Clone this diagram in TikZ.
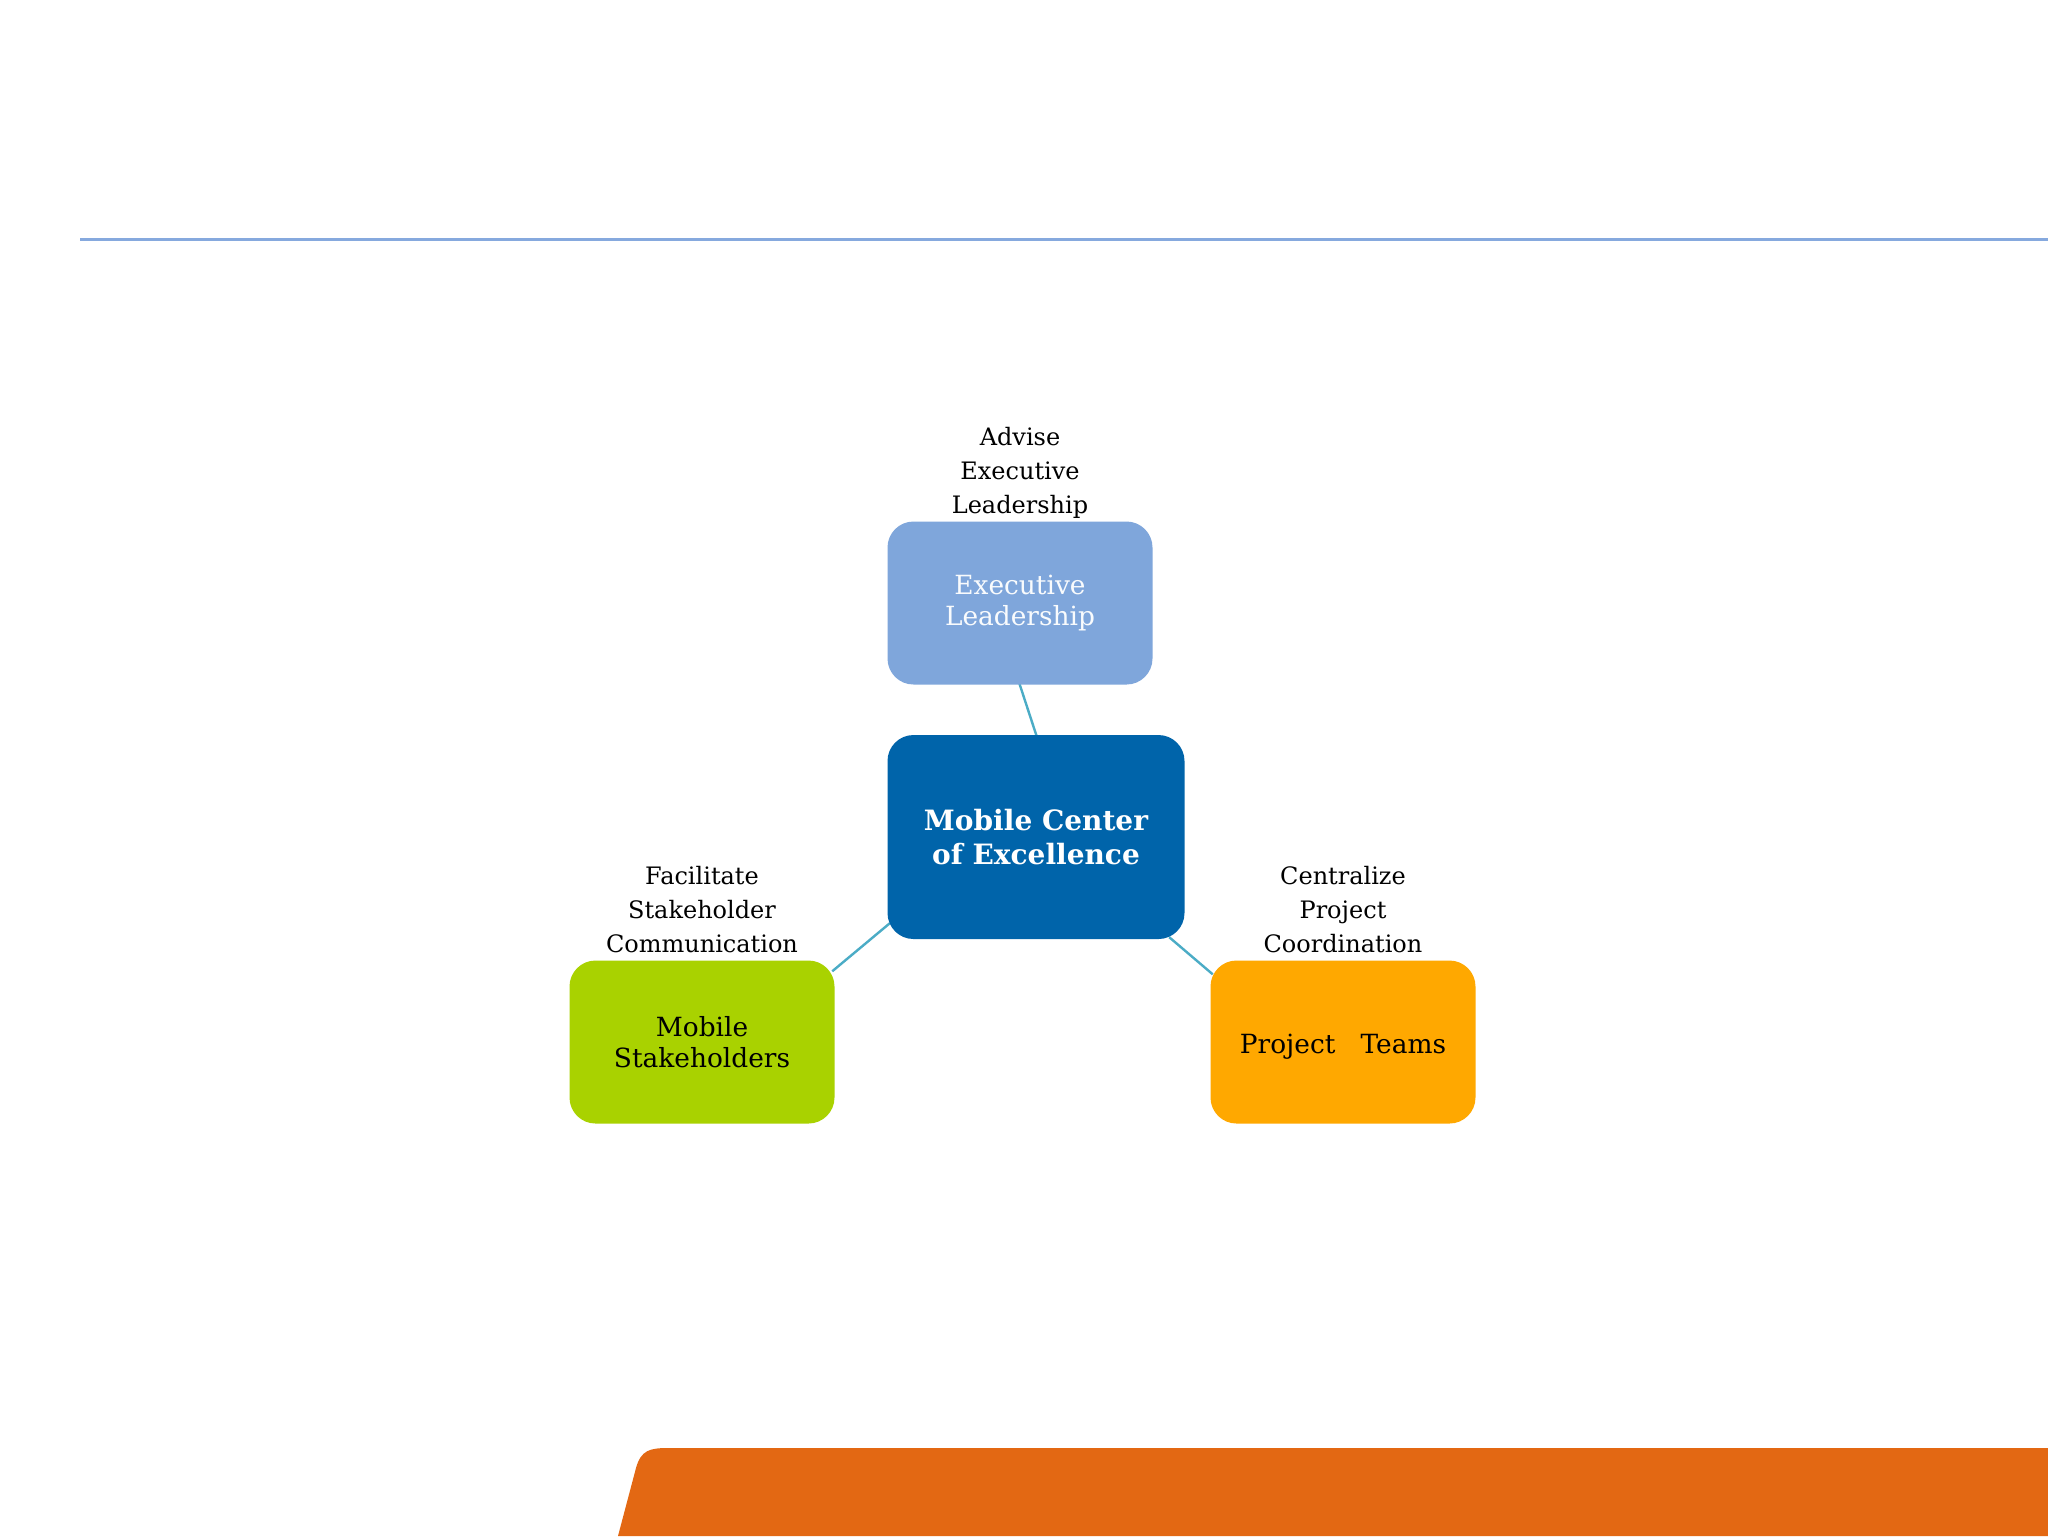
\documentclass[tikz,border=0pt]{standalone}
\usepackage{fontspec}
\setmainfont{DejaVu Serif}
\usepackage{tikz}
\usetikzlibrary{positioning,backgrounds}
\usepackage{color}

\definecolor{ruleblue}{HTML}{86A9DE}
\definecolor{execblue}{HTML}{7FA6DB}
\definecolor{hubblue}{HTML}{0064AA}
\definecolor{stakegreen}{HTML}{A9D200}
\definecolor{teamorange}{HTML}{FFA800}
\definecolor{bandorange}{HTML}{E36813}
\definecolor{spoketeal}{HTML}{4BACC6}

\tikzset{
  block/.style={rectangle, rounded corners=6.5pt, minimum width=66.25pt,
    minimum height=40.75pt, align=center, inner sep=2pt,
    font=\fontsize{6.6}{7.8}\selectfont},
  hub/.style={block, minimum width=74.25pt, minimum height=51pt,
    font=\fontsize{7}{8.5}\selectfont\bfseries},
  tag/.style={align=center, inner sep=0pt, text depth=0pt,
    font=\fontsize{6}{8.5}\selectfont},
  spoke/.style={draw=spoketeal, line width=0.6pt, shorten <=-1pt, shorten >=-1pt},
}

\begin{document}
\begin{tikzpicture}[x=0.25pt,y=-0.25pt]
  % page frame
  \useasboundingbox (0,0) rectangle (2048,1536);

  % decoration
  \coordinate (rulel) at (80,239);
  \coordinate (ruler) at (2048,239);
  \draw[ruleblue, line width=0.75pt] (rulel) -- (ruler);
  \fill[bandorange] (618,1536) -- (636,1468)
    .. controls (641,1450) and (650,1448) .. (668,1448)
    -- (2048,1448) -- (2048,1536) -- cycle;

  % boxes
  \node[block, fill=execblue, text=white!95!execblue] (exec) at (1020,603)
    {Executive\\Leadership};
  \node[hub, fill=hubblue, text=white] (coe) at (1036,837)
    {Mobile Center\\of Excellence};
  \node[block, fill=stakegreen] (stake) at (702,1042)
    {Mobile\\Stakeholders};
  \node[block, fill=teamorange, text height=5.7pt, text depth=0pt] (team) at (1343,1042)
    {Project\ \ \ Teams};

  % connectors
  \begin{scope}[on background layer]
    \fill[white] (0,0) rectangle (2048,1536);
    \draw[spoke] (exec.south) -- (coe.north);
    \draw[spoke] ([yshift=3.5pt]coe.south west) -- ([yshift=-2.25pt]stake.north east);
    \draw[spoke] ([xshift=-3.25pt]coe.south east) -- ([yshift=-3pt]team.north west);
  \end{scope}

  % labels
  \node[tag, above=1.6pt of exec] (advise) {Advise\\Executive\\Leadership};
  \node[tag, above=1.6pt of stake] (facil) {Facilitate\\Stakeholder\\Communication};
  \node[tag, above=1.6pt of team] (central) {Centralize\\Project\\Coordination};
\end{tikzpicture}
\end{document}
